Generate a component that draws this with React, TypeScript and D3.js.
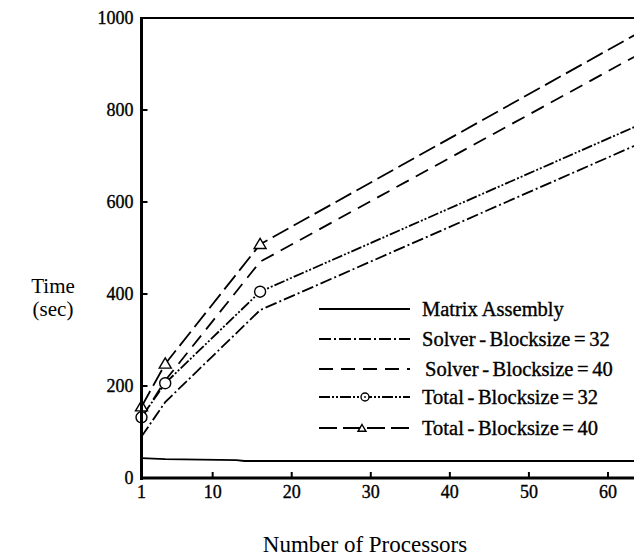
import React from "react";
import * as d3 from "d3";

// values
const processors = [1, 4, 16, 64];
const assemblyProcs = [1, 4, 13, 14, 64];
const matrixAssembly = [43, 41, 39, 37, 37];
const solver32 = [90, 165, 365, 727];
const solver40 = [130, 212, 470, 922];
const total32 = [132, 206, 405, 768];
const total40 = [155, 248, 508, 969];

const xTicks = [1, 10, 20, 30, 40, 50, 60];
const yTicks = [0, 200, 400, 600, 800, 1000];

const legendLabels = [
  "Matrix Assembly",
  "Solver - Blocksize = 32",
  "Solver - Blocksize = 40",
  "Total - Blocksize = 32",
  "Total - Blocksize = 40",
];

const W = 634;
const H = 558;
const FONT = "Liberation Serif, Times New Roman, serif";
const textStyle = { fontFamily: FONT, stroke: "black", strokeWidth: 0.35 };

const dashes = ["", "12 3 2 3", "14 8", "11 2 2 2 2 2", "18 6"];

const x = d3.scaleLinear().domain([1, 64]).range([141.5, 639.6]);
const y = d3.scaleLinear().domain([0, 1000]).range([478, 18]);

type Pt = [number, number];
const line = d3
  .line<Pt>()
  .x((d) => x(d[0]))
  .y((d) => y(d[1]));

const zip = (xs: number[], ys: number[]): Pt[] => xs.map((v, i) => [v, ys[i]]);

const series = [
  zip(assemblyProcs, matrixAssembly),
  zip(processors, solver32),
  zip(processors, solver40),
  zip(processors, total32),
  zip(processors, total40),
];

const Triangle = ({ cx, cy, s }: { cx: number; cy: number; s: number }) => (
  <path
    d={`M${cx},${cy - s}L${cx + s},${cy + s * 0.7}L${cx - s},${cy + s * 0.7}Z`}
    fill="white"
    stroke="black"
    strokeWidth={1.4}
  />
);

export default function App() {
  const x0 = x(1);
  const y0 = y(0);
  const legendY = [309, 339, 369, 397, 428];

  return (
    <svg
      width={W}
      height={H}
      style={{ position: "absolute", left: 0, top: 0, background: "white" }}
    >
      <defs>
        <clipPath id="plot">
          <rect x={x0} y={y(1000)} width={W - x0} height={y0 - y(1000)} />
        </clipPath>
      </defs>

      {/* series */}
      <g clipPath="url(#plot)" fill="none" stroke="black" strokeWidth={1.8}>
        {series.map((s, i) => (
          <path key={i} d={line(s) || ""} strokeDasharray={dashes[i] || undefined} />
        ))}
      </g>

      {/* markers */}
      {series[3].slice(0, 3).map((d, i) => (
        <circle key={"c" + i} cx={x(d[0])} cy={y(d[1])} r={5.5} fill="white" stroke="black" strokeWidth={1.4} />
      ))}
      {series[4].slice(0, 3).map((d, i) => (
        <Triangle key={"t" + i} cx={x(d[0])} cy={y(d[1])} s={6} />
      ))}

      {/* frame */}
      <line x1={x0} x2={W} y1={y(1000)} y2={y(1000)} stroke="black" strokeWidth={2.2} />
      <line x1={x0} x2={x0} y1={y(1000) - 1} y2={y0 + 2} stroke="black" strokeWidth={3} />
      <line x1={x0 - 1} x2={W} y1={y0} y2={y0} stroke="black" strokeWidth={3} />

      {/* y ticks */}
      {yTicks.map((t) => (
        <g key={"y" + t}>
          {t > 0 && t < 1000 && (
            <line x1={x0} x2={x0 + 6} y1={y(t)} y2={y(t)} stroke="black" strokeWidth={2} />
          )}
          <text x={x0 - 8} y={y(t)} dy="0.35em" textAnchor="end" fontSize={18} style={textStyle}>
            {t}
          </text>
        </g>
      ))}

      {/* x ticks */}
      {xTicks.map((t) => (
        <g key={"x" + t}>
          {t > 1 && <line x1={x(t)} x2={x(t)} y1={y0} y2={y0 - 6} stroke="black" strokeWidth={2} />}
          <text x={x(t)} y={y0 + 20} textAnchor="middle" fontSize={18} style={textStyle}>
            {t}
          </text>
        </g>
      ))}

      {/* axis titles */}
      <text x={53} y={293} textAnchor="middle" fontSize={21} style={{ fontFamily: FONT }}>
        Time
      </text>
      <text x={53} y={316} textAnchor="middle" fontSize={21} style={{ fontFamily: FONT }}>
        (sec)
      </text>
      <text x={365} y={552} textAnchor="middle" fontSize={23} style={{ fontFamily: FONT }}>
        Number of Processors
      </text>

      {/* legend */}
      {legendLabels.map((lab, i) => (
        <g key={"l" + i}>
          <line
            x1={319}
            x2={410}
            y1={legendY[i]}
            y2={legendY[i]}
            stroke="black"
            strokeWidth={1.8}
            strokeDasharray={dashes[i] || undefined}
          />
          <text
            x={i === 2 ? 425 : 422}
            y={legendY[i]}
            dy="0.35em"
            fontSize={20.5}
            wordSpacing={i === 0 ? 0 : -1.5}
            style={textStyle}
          >
            {lab}
          </text>
        </g>
      ))}
      <circle cx={365} cy={legendY[3]} r={4} fill="white" stroke="black" strokeWidth={1.4} />
      <circle cx={365} cy={legendY[3]} r={0.9} fill="black" />
      <Triangle cx={362} cy={legendY[4] + 0.5} s={4} />
    </svg>
  );
}
